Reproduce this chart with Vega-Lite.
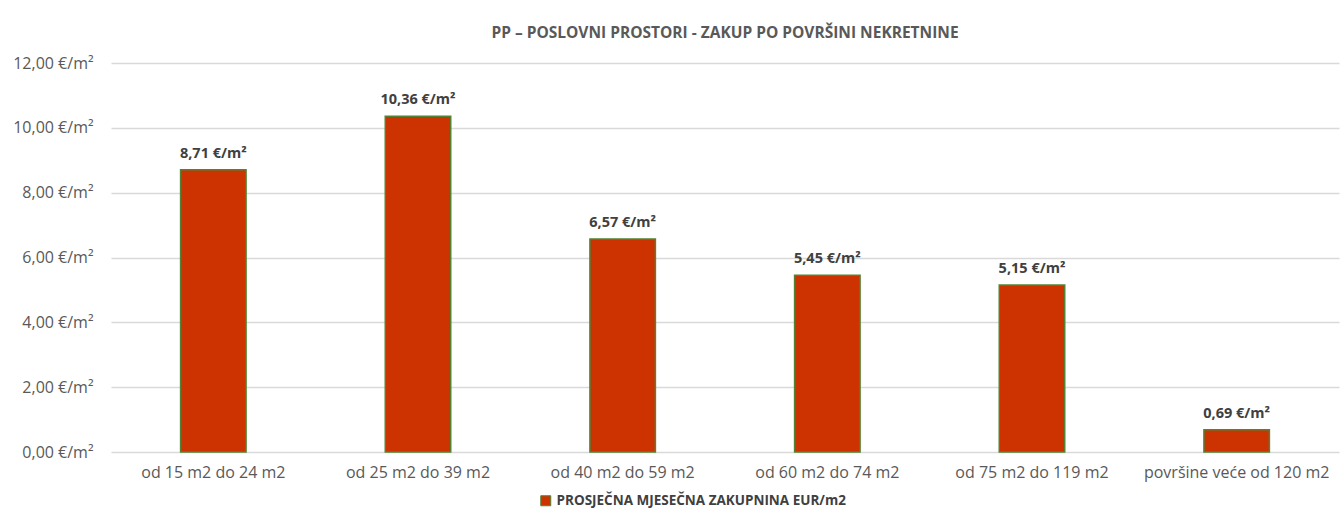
{
  "$schema": "https://vega.github.io/schema/vega-lite/v6.json",
  "autosize": {"type": "fit", "contains": "padding"},
  "width": 1344,
  "height": 520,
  "padding": {"left": 12, "top": 25, "right": 5, "bottom": 40},
  "background": "white",
  "config": {
    "locale": {"number": {"decimal": ",", "thousands": ".", "grouping": [3], "currency": ["", " €/m²"]}},
    "view": {"stroke": null},
    "font": "Open Sans"
  },
  "title": {
    "text": "PP – POSLOVNI PROSTORI - ZAKUP PO POVRŠINI NEKRETNINE",
    "fontSize": 15.5,
    "fontWeight": "bold",
    "color": "#595959",
    "offset": 14,
    "anchor": "middle"
  },
  "data": {
    "values": [
      {"kategorija": "od 15 m2 do 24 m2", "vrijednost": 8.71, "serija": "PROSJEČNA MJESEČNA ZAKUPNINA EUR/m2"},
      {"kategorija": "od 25 m2 do 39 m2", "vrijednost": 10.36, "serija": "PROSJEČNA MJESEČNA ZAKUPNINA EUR/m2"},
      {"kategorija": "od 40 m2 do 59 m2", "vrijednost": 6.57, "serija": "PROSJEČNA MJESEČNA ZAKUPNINA EUR/m2"},
      {"kategorija": "od 60 m2 do 74 m2", "vrijednost": 5.45, "serija": "PROSJEČNA MJESEČNA ZAKUPNINA EUR/m2"},
      {"kategorija": "od 75 m2 do 119 m2", "vrijednost": 5.15, "serija": "PROSJEČNA MJESEČNA ZAKUPNINA EUR/m2"},
      {"kategorija": "površine veće od 120 m2", "vrijednost": 0.69, "serija": "PROSJEČNA MJESEČNA ZAKUPNINA EUR/m2"}
    ]
  },
  "encoding": {
    "x": {
      "field": "kategorija",
      "type": "nominal",
      "sort": null,
      "scale": {"paddingInner": 0.68, "paddingOuter": 0.34},
      "axis": {
        "title": null,
        "labelAngle": 0,
        "labelFontSize": 16,
        "labelColor": "#595959",
        "labelPadding": 12,
        "labelLimit": 400,
        "ticks": false,
        "domain": false
      }
    },
    "y": {
      "field": "vrijednost",
      "type": "quantitative",
      "scale": {"domain": [0, 12]},
      "axis": {
        "title": null,
        "values": [0, 2, 4, 6, 8, 10, 12],
        "format": "$.2f",
        "labelFontSize": 16,
        "labelColor": "#595959",
        "labelPadding": 18,
        "ticks": false,
        "domain": false,
        "gridColor": "#d9d9d9",
        "gridWidth": 1.3
      }
    }
  },
  "layer": [
    {
      "mark": {"type": "bar", "stroke": "#548235", "strokeWidth": 1.5},
      "encoding": {
        "color": {
          "field": "serija",
          "type": "nominal",
          "scale": {"range": ["#CC3300"]},
          "legend": {
            "title": null,
            "orient": "none",
            "legendX": 428,
            "legendY": 431,
            "direction": "horizontal",
            "symbolType": "square",
            "symbolSize": 100,
            "symbolStrokeColor": "#548235",
            "symbolStrokeWidth": 1,
            "labelFontSize": 13.5,
            "labelFontWeight": "bold",
            "labelColor": "#404040",
            "labelLimit": 600,
            "labelOffset": 4
          }
        }
      }
    },
    {
      "mark": {"type": "text", "dy": -16, "fontSize": 14.5, "fontWeight": "bold", "color": "#404040"},
      "encoding": {
        "text": {"field": "vrijednost", "type": "quantitative", "format": "$.2f"}
      }
    }
  ]
}
